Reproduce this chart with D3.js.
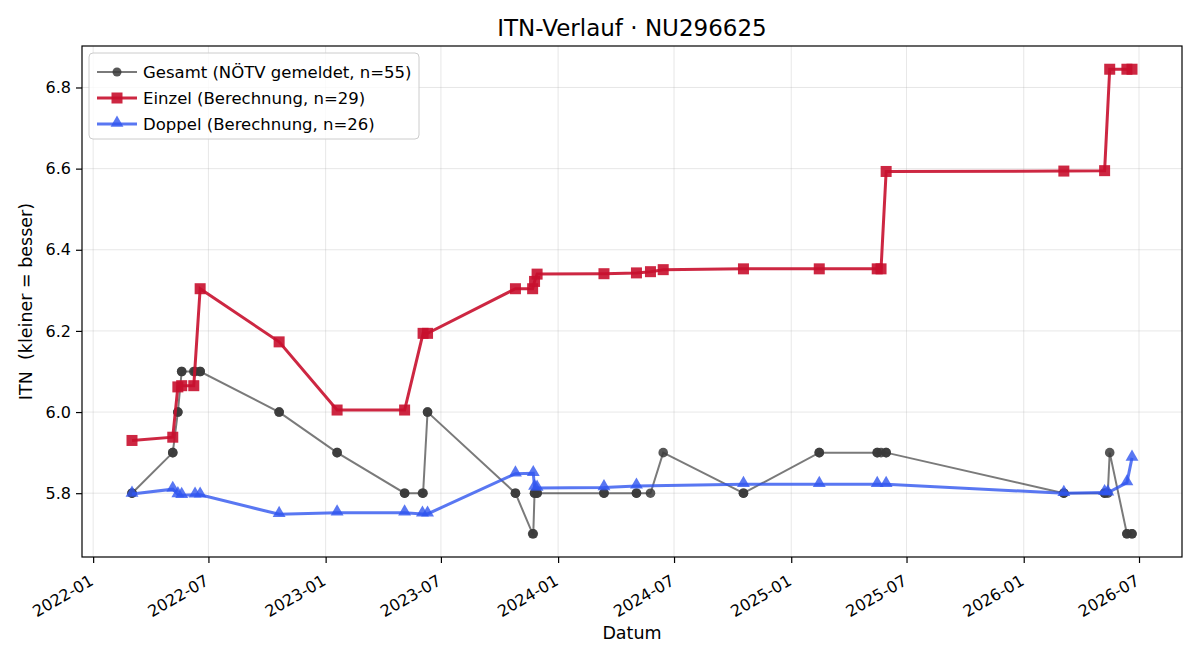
<!DOCTYPE html>
<html>
<head>
<meta charset="utf-8">
<script src="https://cdn.jsdelivr.net/npm/d3@7"></script>
<style>
  body { margin: 0; background: #fff; }
  svg text { font-family: "DejaVu Sans", sans-serif; fill: #000; white-space: pre; }
</style>
</head>
<body>
<svg id="chart"></svg>
<script>
// --- data ---
var einzelDates = ["2022-03-03","2022-05-06","2022-05-14","2022-05-20","2022-06-08","2022-06-18",
  "2022-10-20","2023-01-19","2023-05-05","2023-06-03","2023-06-10","2023-10-26","2023-11-22",
  "2023-11-25","2023-11-29","2024-03-13","2024-05-03","2024-05-25","2024-06-14","2024-10-18",
  "2025-02-14","2025-05-16","2025-05-22","2025-05-30","2026-03-05","2026-05-08","2026-05-16",
  "2026-06-12","2026-06-20"];
var einzelValues = [5.930,5.938,6.062,6.065,6.065,6.304,
  6.173,6.005,6.005,6.194,6.194,6.304,6.304,
  6.322,6.340,6.341,6.343,6.346,6.351,6.353,
  6.353,6.353,6.353,6.593,6.594,6.595,6.845,
  6.845,6.845];

var doppelDates = ["2022-03-03","2022-05-06","2022-05-14","2022-05-20","2022-06-10","2022-06-18",
  "2022-10-20","2023-01-19","2023-05-05","2023-06-02","2023-06-10","2023-10-26","2023-11-23",
  "2023-11-25","2023-11-29","2024-03-13","2024-05-03","2024-10-18","2025-02-14","2025-05-16",
  "2025-05-30","2026-03-05","2026-05-08","2026-05-13","2026-06-12","2026-06-20"];
var doppelValues = [5.798,5.810,5.797,5.795,5.796,5.796,
  5.748,5.752,5.752,5.749,5.749,5.848,5.849,
  5.815,5.813,5.814,5.818,5.822,5.822,5.822,
  5.822,5.800,5.802,5.801,5.826,5.887];

// reported (NÖTV) value on each match day
var gesamtDates = ["2022-03-03","2022-03-03","2022-05-06","2022-05-06","2022-05-14","2022-05-14",
  "2022-05-20","2022-05-20","2022-06-08","2022-06-10","2022-06-18","2022-06-18","2022-10-20",
  "2022-10-20","2023-01-19","2023-01-19","2023-05-05","2023-05-05","2023-06-02","2023-06-03",
  "2023-06-10","2023-06-10","2023-10-26","2023-10-26","2023-11-22","2023-11-23","2023-11-25",
  "2023-11-25","2023-11-29","2023-11-29","2024-03-13","2024-03-13","2024-05-03","2024-05-03",
  "2024-05-25","2024-06-14","2024-10-18","2024-10-18","2025-02-14","2025-02-14","2025-05-16",
  "2025-05-16","2025-05-22","2025-05-30","2025-05-30","2026-03-05","2026-03-05","2026-05-08",
  "2026-05-08","2026-05-13","2026-05-16","2026-06-12","2026-06-12","2026-06-20","2026-06-20"];
var gesamtValues = [5.8,5.8,5.9,5.9,6.0,6.0,
  6.1,6.1,6.1,6.1,6.1,6.1,6.0,
  6.0,5.9,5.9,5.8,5.8,5.8,5.8,
  6.0,6.0,5.8,5.8,5.7,5.7,5.8,
  5.8,5.8,5.8,5.8,5.8,5.8,5.8,
  5.8,5.9,5.8,5.8,5.9,5.9,5.9,
  5.9,5.9,5.9,5.9,5.8,5.8,5.8,
  5.8,5.8,5.9,5.7,5.7,5.7,5.7];

var yTicks = [5.8, 6.0, 6.2, 6.4, 6.6, 6.8];
var legendLabels = ["Gesamt (NÖTV gemeldet, n=55)", "Einzel (Berechnung, n=29)", "Doppel (Berechnung, n=26)"];

// --- layout ---
var width = 1200, height = 660;
var margin = {left: 82, right: 18, top: 46, bottom: 103};
var plotW = width - margin.left - margin.right;
var plotH = height - margin.top - margin.bottom;

var parse = d3.timeParse("%Y-%m-%d");
function zip(dates, vals) {
  return dates.map(function(d, i) { return {date: parse(d), value: vals[i]}; });
}
var gesamt = zip(gesamtDates, gesamtValues);
var einzel = zip(einzelDates, einzelValues);
var doppel = zip(doppelDates, doppelValues);
var all = gesamt.concat(einzel, doppel);

// matplotlib-like 5% margins
var xExt = d3.extent(all, function(d) { return +d.date; });
var xPad = (xExt[1] - xExt[0]) * 0.05;
var yExt = d3.extent(all, function(d) { return d.value; });
var yPad = (yExt[1] - yExt[0]) * 0.05;

var x = d3.scaleTime()
  .domain([new Date(xExt[0] - xPad), new Date(xExt[1] + xPad)])
  .range([0, plotW]);
var y = d3.scaleLinear()
  .domain([yExt[0] - yPad, yExt[1] + yPad])
  .range([plotH, 0]);

var svg = d3.select("#chart").attr("width", width).attr("height", height);
svg.append("rect").attr("width", width).attr("height", height).attr("fill", "#fff");

var g = svg.append("g").attr("transform", "translate(" + margin.left + "," + margin.top + ")");

var xTicks = x.ticks(d3.timeMonth.every(6));

// grid
g.append("g").selectAll("line").data(xTicks).enter().append("line")
  .attr("x1", function(d) { return x(d); }).attr("x2", function(d) { return x(d); })
  .attr("y1", 0).attr("y2", plotH)
  .attr("stroke", "#b0b0b0").attr("stroke-opacity", 0.3).attr("stroke-width", 1);
g.append("g").selectAll("line").data(yTicks).enter().append("line")
  .attr("x1", 0).attr("x2", plotW)
  .attr("y1", function(d) { return y(d); }).attr("y2", function(d) { return y(d); })
  .attr("stroke", "#b0b0b0").attr("stroke-opacity", 0.3).attr("stroke-width", 1);

// axes
var xAxis = d3.axisBottom(x).tickValues(xTicks).tickFormat(d3.timeFormat("%Y-%m")).tickSizeOuter(0).tickSize(6).tickPadding(4);
var xg = g.append("g").attr("transform", "translate(0," + plotH + ")").call(xAxis);
xg.select(".domain").remove();
xg.selectAll("line").attr("stroke", "#000").attr("stroke-width", 1.2);
xg.selectAll("text")
  .style("font-size", "16px")
  .attr("text-anchor", "end")
  .attr("y", 0).attr("dy", 0)
  .attr("transform", "translate(1,27) rotate(-30)");

var yAxis = d3.axisLeft(y).tickValues(yTicks).tickFormat(d3.format(".1f")).tickSizeOuter(0).tickSize(6).tickPadding(5);
var yg = g.append("g").call(yAxis);
yg.select(".domain").remove();
yg.selectAll("line").attr("stroke", "#000").attr("stroke-width", 1.2);
yg.selectAll("text").style("font-size", "16px");

// frame
g.append("rect").attr("width", plotW).attr("height", plotH)
  .attr("fill", "none").attr("stroke", "#000").attr("stroke-width", 1.2);

// series
var line = d3.line().x(function(d) { return x(d.date); }).y(function(d) { return y(d.value); });

var grayLine = "#333", grayMarker = "#3a3a3a";
var red = "#C8102E", blue = "#2f55ef";

g.append("path").datum(gesamt).attr("d", line)
  .attr("fill", "none").attr("stroke", grayLine).attr("stroke-opacity", 0.65).attr("stroke-width", 2);
g.append("g").selectAll("circle").data(gesamt).enter().append("circle")
  .attr("cx", function(d) { return x(d.date); }).attr("cy", function(d) { return y(d.value); })
  .attr("r", 4.8).attr("fill", grayMarker).attr("fill-opacity", 0.85);

g.append("path").datum(einzel).attr("d", line)
  .attr("fill", "none").attr("stroke", red).attr("stroke-opacity", 0.9).attr("stroke-width", 3);
g.append("g").selectAll("rect").data(einzel).enter().append("rect")
  .attr("x", function(d) { return x(d.date) - 5.5; }).attr("y", function(d) { return y(d.value) - 5.5; })
  .attr("width", 11).attr("height", 11)
  .attr("fill", red).attr("fill-opacity", 0.9);

var tri = d3.symbol().type(d3.symbolTriangle).size(72);
g.append("path").datum(doppel).attr("d", line)
  .attr("fill", "none").attr("stroke", blue).attr("stroke-opacity", 0.8).attr("stroke-width", 3);
g.append("g").selectAll("path").data(doppel).enter().append("path")
  .attr("d", tri)
  .attr("transform", function(d) { return "translate(" + x(d.date) + "," + (y(d.value) - 1) + ")"; })
  .attr("fill", blue).attr("fill-opacity", 0.8);

// labels
svg.append("text").attr("x", margin.left + plotW / 2).attr("y", 36)
  .attr("text-anchor", "middle").style("font-size", "23px").text("ITN-Verlauf · NU296625");
svg.append("text").attr("x", margin.left + plotW / 2).attr("y", 639)
  .attr("text-anchor", "middle").style("font-size", "17.5px").text("Datum");
svg.append("text").attr("transform", "translate(32," + (margin.top + plotH / 2) + ") rotate(-90)")
  .attr("text-anchor", "middle").style("font-size", "17.5px").text("ITN  (kleiner = besser)");

// legend
var lg = svg.append("g").attr("transform", "translate(89,53)");
lg.append("rect").attr("width", 330).attr("height", 86).attr("rx", 4)
  .attr("fill", "#fff").attr("fill-opacity", 0.8).attr("stroke", "#ccc").attr("stroke-width", 1);
var rowY = [19, 45, 71];
legendLabels.forEach(function(label, i) {
  var row = lg.append("g").attr("transform", "translate(0," + rowY[i] + ")");
  var c = [grayLine, red, blue][i];
  row.append("line").attr("x1", 8).attr("x2", 48).attr("y1", 0).attr("y2", 0)
    .attr("stroke", c).attr("stroke-opacity", [0.65, 0.9, 0.8][i]).attr("stroke-width", i === 0 ? 2 : 3);
  if (i === 0) {
    row.append("circle").attr("cx", 28).attr("cy", 0).attr("r", 4.5).attr("fill", grayMarker).attr("fill-opacity", 0.85);
  } else if (i === 1) {
    row.append("rect").attr("x", 22.5).attr("y", -5.5).attr("width", 11).attr("height", 11).attr("fill", red).attr("fill-opacity", 0.9);
  } else {
    row.append("path").attr("d", tri).attr("transform", "translate(28,-1)").attr("fill", blue).attr("fill-opacity", 0.8);
  }
  row.append("text").attr("x", 54).attr("y", 6).style("font-size", "16.5px").text(label);
});
</script>
</body>
</html>
